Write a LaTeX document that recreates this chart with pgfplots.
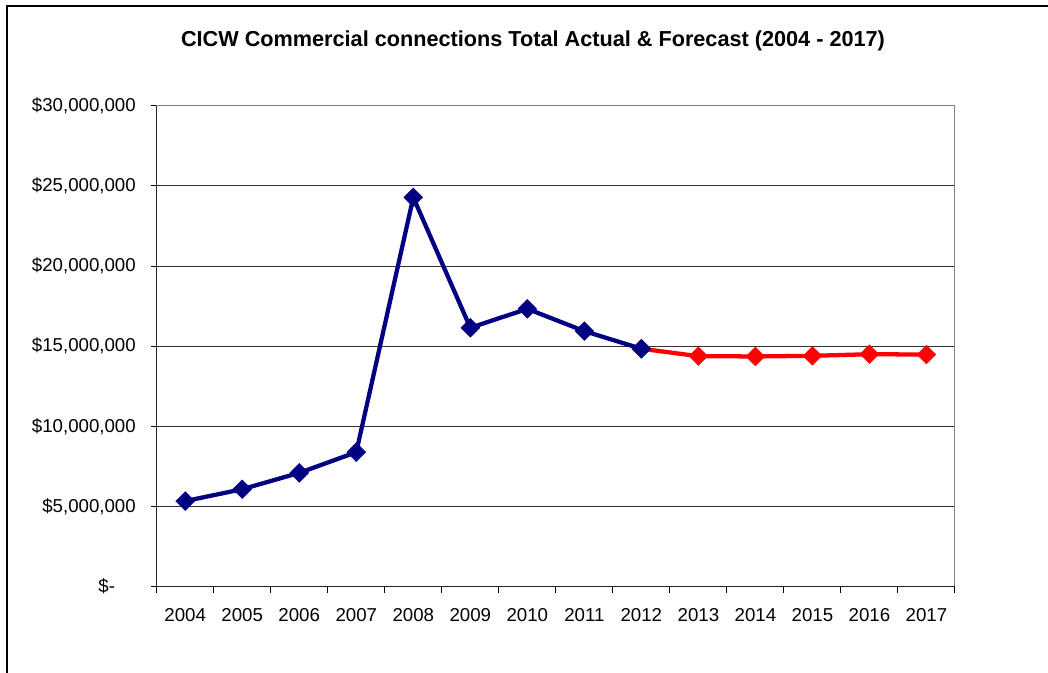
\documentclass[border=0pt]{standalone}
\usepackage{fontspec}
\setmainfont{Liberation Sans}
\usepackage{pgfplots}
\pgfplotsset{compat=1.18}
\definecolor{navy}{RGB}{0,0,128}
\begin{document}
\begin{tikzpicture}[x=0.75pt,y=-0.75pt]
\useasboundingbox (0,0) rectangle (1048,673);
\draw[line width=1.5pt] (7,6) rectangle (1200,800);
\node[font=\fontsize{16.25}{19}\selectfont\bfseries] at (533,41) {CICW Commercial connections Total Actual \& Forecast (2004 - 2017)};
\coordinate (o) at (156.7,586.7);
\begin{axis}[at={(o)}, anchor=south west,
  width=598.7pt, height=360.75pt, scale only axis,
  xmin=-0.5, xmax=13.5, ymin=0, ymax=30000000,
  xtick={0,...,13},
  xticklabels={2004,2005,2006,2007,2008,2009,2010,2011,2012,2013,2014,2015,2016,2017},
  minor xtick={-0.5,0.5,...,13.5},
  major x tick style={draw=none},
  ytick={0,5000000,10000000,15000000,20000000,25000000,30000000},
  yticklabels={{\$-\phantom{00}},{\$5,000,000},{\$10,000,000},{\$15,000,000},{\$20,000,000},{\$25,000,000},{\$30,000,000}},
  scaled y ticks=false,
  tick pos=left,
  tick align=outside,
  major tick length=4.5pt, minor tick length=4.5pt,
  tick style={black, line width=0.75pt},
  ticklabel style={font=\fontsize{14}{16}\selectfont},
  yticklabel style={inner sep=0pt, xshift=-11pt},
  xticklabel style={inner sep=0pt, yshift=-11.25pt},
  ymajorgrids,
  grid style={black!80, line width=0.75pt},
  axis line style={gray, line width=0.75pt},
  after end axis/.code={\draw[black!85, line width=1pt] (rel axis cs:0,1) -- (rel axis cs:0,0) -- (rel axis cs:1,0);},
]
\addplot[red, line width=3.2pt, mark=square*, mark size=5pt,
  mark options={rotate=45, fill=red, draw=red, line width=0.3pt}]
  coordinates {(8,14840000)(9,14380000)(10,14360000)(11,14400000)(12,14500000)(13,14480000)};
\addplot[navy, line width=3.2pt, mark=square*, mark size=5pt,
  mark options={rotate=45, fill=navy, draw=navy, line width=0.3pt}]
  coordinates {(0,5340000)(1,6080000)(2,7100000)(3,8390000)(4,24280000)(5,16150000)(6,17330000)(7,15940000)(8,14840000)};
\end{axis}
\end{tikzpicture}
\end{document}
